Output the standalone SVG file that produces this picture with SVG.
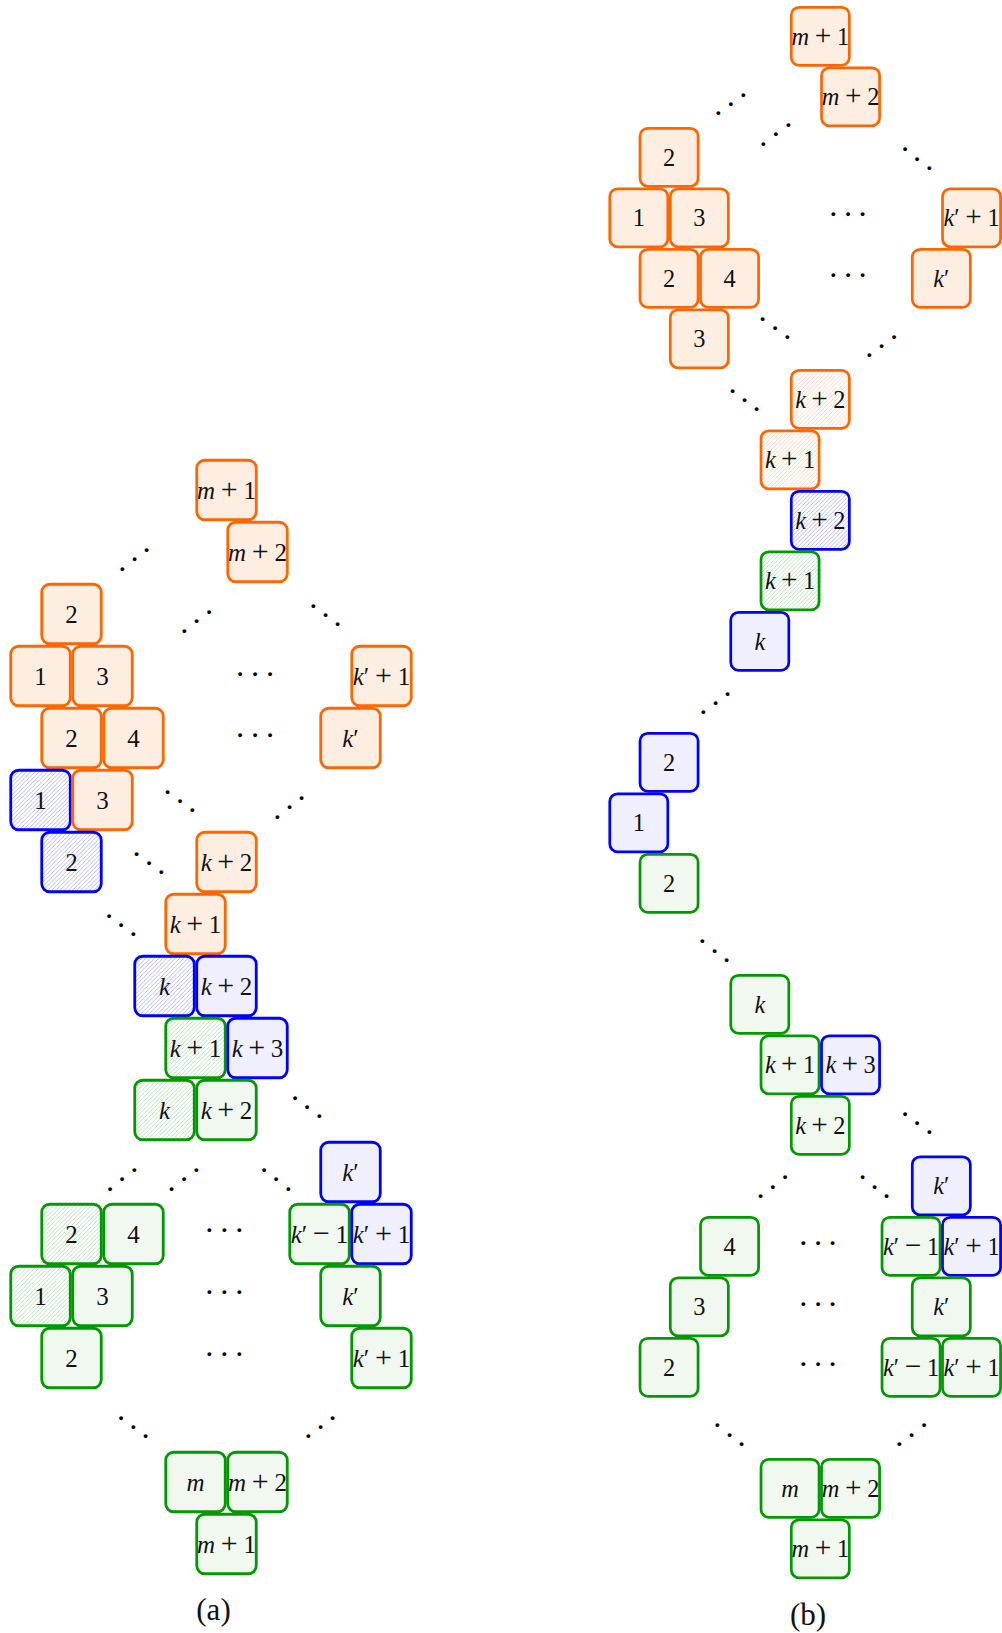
<svg xmlns="http://www.w3.org/2000/svg" width="1002" height="1633" viewBox="0 0 1002 1633">
<style>
rect.c { stroke-width:2.8; }
.O { fill:#feeee1; stroke:#ff6600; }
.B { fill:#efeffd; stroke:#0000ff; }
.G { fill:#f0f8ef; stroke:#009900; }
.OH { fill:url(#hO); stroke:#ff6600; }
.BH { fill:url(#hB); stroke:#0000ff; }
.GH { fill:url(#hG); stroke:#009900; }
text.t { font-family:"Liberation Serif", serif; font-size:25px; text-anchor:middle; fill:#111; }
tspan.i { font-style:italic; }
tspan.op { font-size:30px; }
text.d { font-family:"Liberation Serif", serif; font-size:32px; text-anchor:middle; fill:#000; }
text.cap { font-family:"Liberation Serif", serif; font-size:31px; text-anchor:middle; fill:#111; }
</style>
<defs>
<pattern id="hB" patternUnits="userSpaceOnUse" width="4.2" height="4.2">
<rect width="4.2" height="4.2" fill="#fff"/>
<path d="M-1,1 L1,-1 M0,4.2 L4.2,0 M3.2,5.2 L5.2,3.2" stroke="#9c9cff" stroke-width="0.7"/>
</pattern>
<pattern id="hG" patternUnits="userSpaceOnUse" width="4.2" height="4.2">
<rect width="4.2" height="4.2" fill="#fff"/>
<path d="M-1,1 L1,-1 M0,4.2 L4.2,0 M3.2,5.2 L5.2,3.2" stroke="#9fd89f" stroke-width="0.7"/>
</pattern>
<pattern id="hO" patternUnits="userSpaceOnUse" width="4.2" height="4.2">
<rect width="4.2" height="4.2" fill="#fff"/>
<path d="M-1,1 L1,-1 M0,4.2 L4.2,0 M3.2,5.2 L5.2,3.2" stroke="#ffc4a0" stroke-width="0.7"/>
</pattern>
</defs>

<g id="diagram-a" transform="translate(40.5,490)">
<g id="a1" transform="translate(186,0)"><rect class="c O" x="-29.75" y="-29.75" width="59.5" height="59.5" rx="8"/><text class="t" y="8.5" textLength="59" lengthAdjust="spacing"><tspan class="i">m</tspan> <tspan class="op">+</tspan> 1</text></g>
<g id="a2" transform="translate(217,62)"><rect class="c O" x="-29.75" y="-29.75" width="59.5" height="59.5" rx="8"/><text class="t" y="8.5" textLength="59" lengthAdjust="spacing"><tspan class="i">m</tspan> <tspan class="op">+</tspan> 2</text></g>
<g id="a3" transform="translate(31,124)"><rect class="c O" x="-29.75" y="-29.75" width="59.5" height="59.5" rx="8"/><text class="t" y="8.5">2</text></g>
<g id="a4" transform="translate(0,186)"><rect class="c O" x="-29.75" y="-29.75" width="59.5" height="59.5" rx="8"/><text class="t" y="8.5">1</text></g>
<g id="a5" transform="translate(62,186)"><rect class="c O" x="-29.75" y="-29.75" width="59.5" height="59.5" rx="8"/><text class="t" y="8.5">3</text></g>
<g id="a6" transform="translate(341,186)"><rect class="c O" x="-29.75" y="-29.75" width="59.5" height="59.5" rx="8"/><text class="t" y="8.5" textLength="57.5" lengthAdjust="spacing"><tspan class="i">k</tspan>′ <tspan class="op">+</tspan> 1</text></g>
<g id="a7" transform="translate(31,248)"><rect class="c O" x="-29.75" y="-29.75" width="59.5" height="59.5" rx="8"/><text class="t" y="8.5">2</text></g>
<g id="a8" transform="translate(93,248)"><rect class="c O" x="-29.75" y="-29.75" width="59.5" height="59.5" rx="8"/><text class="t" y="8.5">4</text></g>
<g id="a9" transform="translate(310,248)"><rect class="c O" x="-29.75" y="-29.75" width="59.5" height="59.5" rx="8"/><text class="t" y="8.5"><tspan class="i">k</tspan>′</text></g>
<g id="a10" transform="translate(0,310)"><rect class="c BH" x="-29.75" y="-29.75" width="59.5" height="59.5" rx="8"/><text class="t" y="8.5">1</text></g>
<g id="a11" transform="translate(62,310)"><rect class="c O" x="-29.75" y="-29.75" width="59.5" height="59.5" rx="8"/><text class="t" y="8.5">3</text></g>
<g id="a12" transform="translate(31,372)"><rect class="c BH" x="-29.75" y="-29.75" width="59.5" height="59.5" rx="8"/><text class="t" y="8.5">2</text></g>
<g id="a13" transform="translate(186,372)"><rect class="c O" x="-29.75" y="-29.75" width="59.5" height="59.5" rx="8"/><text class="t" y="8.5" textLength="51.5" lengthAdjust="spacing"><tspan class="i">k</tspan> <tspan class="op">+</tspan> 2</text></g>
<g id="a14" transform="translate(155,434)"><rect class="c O" x="-29.75" y="-29.75" width="59.5" height="59.5" rx="8"/><text class="t" y="8.5" textLength="51.5" lengthAdjust="spacing"><tspan class="i">k</tspan> <tspan class="op">+</tspan> 1</text></g>
<g id="a15" transform="translate(124,496)"><rect class="c BH" x="-29.75" y="-29.75" width="59.5" height="59.5" rx="8"/><text class="t" y="8.5"><tspan class="i">k</tspan></text></g>
<g id="a16" transform="translate(186,496)"><rect class="c B" x="-29.75" y="-29.75" width="59.5" height="59.5" rx="8"/><text class="t" y="8.5" textLength="51.5" lengthAdjust="spacing"><tspan class="i">k</tspan> <tspan class="op">+</tspan> 2</text></g>
<g id="a17" transform="translate(155,558)"><rect class="c GH" x="-29.75" y="-29.75" width="59.5" height="59.5" rx="8"/><text class="t" y="8.5" textLength="51.5" lengthAdjust="spacing"><tspan class="i">k</tspan> <tspan class="op">+</tspan> 1</text></g>
<g id="a18" transform="translate(217,558)"><rect class="c B" x="-29.75" y="-29.75" width="59.5" height="59.5" rx="8"/><text class="t" y="8.5" textLength="51.5" lengthAdjust="spacing"><tspan class="i">k</tspan> <tspan class="op">+</tspan> 3</text></g>
<g id="a19" transform="translate(124,620)"><rect class="c GH" x="-29.75" y="-29.75" width="59.5" height="59.5" rx="8"/><text class="t" y="8.5"><tspan class="i">k</tspan></text></g>
<g id="a20" transform="translate(186,620)"><rect class="c G" x="-29.75" y="-29.75" width="59.5" height="59.5" rx="8"/><text class="t" y="8.5" textLength="51.5" lengthAdjust="spacing"><tspan class="i">k</tspan> <tspan class="op">+</tspan> 2</text></g>
<g id="a21" transform="translate(310,682)"><rect class="c B" x="-29.75" y="-29.75" width="59.5" height="59.5" rx="8"/><text class="t" y="8.5"><tspan class="i">k</tspan>′</text></g>
<g id="a22" transform="translate(31,744)"><rect class="c GH" x="-29.75" y="-29.75" width="59.5" height="59.5" rx="8"/><text class="t" y="8.5">2</text></g>
<g id="a23" transform="translate(93,744)"><rect class="c G" x="-29.75" y="-29.75" width="59.5" height="59.5" rx="8"/><text class="t" y="8.5">4</text></g>
<g id="a24" transform="translate(279,744)"><rect class="c G" x="-29.75" y="-29.75" width="59.5" height="59.5" rx="8"/><text class="t" y="8.5" textLength="57.5" lengthAdjust="spacing"><tspan class="i">k</tspan>′ <tspan class="op">−</tspan> 1</text></g>
<g id="a25" transform="translate(341,744)"><rect class="c B" x="-29.75" y="-29.75" width="59.5" height="59.5" rx="8"/><text class="t" y="8.5" textLength="57.5" lengthAdjust="spacing"><tspan class="i">k</tspan>′ <tspan class="op">+</tspan> 1</text></g>
<g id="a26" transform="translate(0,806)"><rect class="c GH" x="-29.75" y="-29.75" width="59.5" height="59.5" rx="8"/><text class="t" y="8.5">1</text></g>
<g id="a27" transform="translate(62,806)"><rect class="c G" x="-29.75" y="-29.75" width="59.5" height="59.5" rx="8"/><text class="t" y="8.5">3</text></g>
<g id="a28" transform="translate(310,806)"><rect class="c G" x="-29.75" y="-29.75" width="59.5" height="59.5" rx="8"/><text class="t" y="8.5"><tspan class="i">k</tspan>′</text></g>
<g id="a29" transform="translate(31,868)"><rect class="c G" x="-29.75" y="-29.75" width="59.5" height="59.5" rx="8"/><text class="t" y="8.5">2</text></g>
<g id="a30" transform="translate(341,868)"><rect class="c G" x="-29.75" y="-29.75" width="59.5" height="59.5" rx="8"/><text class="t" y="8.5" textLength="57.5" lengthAdjust="spacing"><tspan class="i">k</tspan>′ <tspan class="op">+</tspan> 1</text></g>
<g id="a31" transform="translate(155,992)"><rect class="c G" x="-29.75" y="-29.75" width="59.5" height="59.5" rx="8"/><text class="t" y="8.5"><tspan class="i">m</tspan></text></g>
<g id="a32" transform="translate(217,992)"><rect class="c G" x="-29.75" y="-29.75" width="59.5" height="59.5" rx="8"/><text class="t" y="8.5" textLength="59" lengthAdjust="spacing"><tspan class="i">m</tspan> <tspan class="op">+</tspan> 2</text></g>
<g id="a33" transform="translate(186,1054)"><rect class="c G" x="-29.75" y="-29.75" width="59.5" height="59.5" rx="8"/><text class="t" y="8.5" textLength="59" lengthAdjust="spacing"><tspan class="i">m</tspan> <tspan class="op">+</tspan> 1</text></g>
</g>

<g id="diagram-b" transform="translate(638.8,36.3) scale(0.9758)">
<g id="b1" transform="translate(186,0)"><rect class="c O" x="-29.75" y="-29.75" width="59.5" height="59.5" rx="8"/><text class="t" y="8.5" textLength="59" lengthAdjust="spacing"><tspan class="i">m</tspan> <tspan class="op">+</tspan> 1</text></g>
<g id="b2" transform="translate(217,62)"><rect class="c O" x="-29.75" y="-29.75" width="59.5" height="59.5" rx="8"/><text class="t" y="8.5" textLength="59" lengthAdjust="spacing"><tspan class="i">m</tspan> <tspan class="op">+</tspan> 2</text></g>
<g id="b3" transform="translate(31,124)"><rect class="c O" x="-29.75" y="-29.75" width="59.5" height="59.5" rx="8"/><text class="t" y="8.5">2</text></g>
<g id="b4" transform="translate(0,186)"><rect class="c O" x="-29.75" y="-29.75" width="59.5" height="59.5" rx="8"/><text class="t" y="8.5">1</text></g>
<g id="b5" transform="translate(62,186)"><rect class="c O" x="-29.75" y="-29.75" width="59.5" height="59.5" rx="8"/><text class="t" y="8.5">3</text></g>
<g id="b6" transform="translate(341,186)"><rect class="c O" x="-29.75" y="-29.75" width="59.5" height="59.5" rx="8"/><text class="t" y="8.5" textLength="57.5" lengthAdjust="spacing"><tspan class="i">k</tspan>′ <tspan class="op">+</tspan> 1</text></g>
<g id="b7" transform="translate(31,248)"><rect class="c O" x="-29.75" y="-29.75" width="59.5" height="59.5" rx="8"/><text class="t" y="8.5">2</text></g>
<g id="b8" transform="translate(93,248)"><rect class="c O" x="-29.75" y="-29.75" width="59.5" height="59.5" rx="8"/><text class="t" y="8.5">4</text></g>
<g id="b9" transform="translate(310,248)"><rect class="c O" x="-29.75" y="-29.75" width="59.5" height="59.5" rx="8"/><text class="t" y="8.5"><tspan class="i">k</tspan>′</text></g>
<g id="b10" transform="translate(62,310)"><rect class="c O" x="-29.75" y="-29.75" width="59.5" height="59.5" rx="8"/><text class="t" y="8.5">3</text></g>
<g id="b11" transform="translate(186,372)"><rect class="c OH" x="-29.75" y="-29.75" width="59.5" height="59.5" rx="8"/><text class="t" y="8.5" textLength="51.5" lengthAdjust="spacing"><tspan class="i">k</tspan> <tspan class="op">+</tspan> 2</text></g>
<g id="b12" transform="translate(155,434)"><rect class="c OH" x="-29.75" y="-29.75" width="59.5" height="59.5" rx="8"/><text class="t" y="8.5" textLength="51.5" lengthAdjust="spacing"><tspan class="i">k</tspan> <tspan class="op">+</tspan> 1</text></g>
<g id="b13" transform="translate(186,496)"><rect class="c BH" x="-29.75" y="-29.75" width="59.5" height="59.5" rx="8"/><text class="t" y="8.5" textLength="51.5" lengthAdjust="spacing"><tspan class="i">k</tspan> <tspan class="op">+</tspan> 2</text></g>
<g id="b14" transform="translate(155,558)"><rect class="c GH" x="-29.75" y="-29.75" width="59.5" height="59.5" rx="8"/><text class="t" y="8.5" textLength="51.5" lengthAdjust="spacing"><tspan class="i">k</tspan> <tspan class="op">+</tspan> 1</text></g>
<g id="b15" transform="translate(124,620)"><rect class="c B" x="-29.75" y="-29.75" width="59.5" height="59.5" rx="8"/><text class="t" y="8.5"><tspan class="i">k</tspan></text></g>
<g id="b16" transform="translate(31,744)"><rect class="c B" x="-29.75" y="-29.75" width="59.5" height="59.5" rx="8"/><text class="t" y="8.5">2</text></g>
<g id="b17" transform="translate(0,806)"><rect class="c B" x="-29.75" y="-29.75" width="59.5" height="59.5" rx="8"/><text class="t" y="8.5">1</text></g>
<g id="b18" transform="translate(31,868)"><rect class="c G" x="-29.75" y="-29.75" width="59.5" height="59.5" rx="8"/><text class="t" y="8.5">2</text></g>
<g id="b19" transform="translate(124,992)"><rect class="c G" x="-29.75" y="-29.75" width="59.5" height="59.5" rx="8"/><text class="t" y="8.5"><tspan class="i">k</tspan></text></g>
<g id="b20" transform="translate(155,1054)"><rect class="c G" x="-29.75" y="-29.75" width="59.5" height="59.5" rx="8"/><text class="t" y="8.5" textLength="51.5" lengthAdjust="spacing"><tspan class="i">k</tspan> <tspan class="op">+</tspan> 1</text></g>
<g id="b21" transform="translate(217,1054)"><rect class="c B" x="-29.75" y="-29.75" width="59.5" height="59.5" rx="8"/><text class="t" y="8.5" textLength="51.5" lengthAdjust="spacing"><tspan class="i">k</tspan> <tspan class="op">+</tspan> 3</text></g>
<g id="b22" transform="translate(186,1116)"><rect class="c G" x="-29.75" y="-29.75" width="59.5" height="59.5" rx="8"/><text class="t" y="8.5" textLength="51.5" lengthAdjust="spacing"><tspan class="i">k</tspan> <tspan class="op">+</tspan> 2</text></g>
<g id="b23" transform="translate(310,1178)"><rect class="c B" x="-29.75" y="-29.75" width="59.5" height="59.5" rx="8"/><text class="t" y="8.5"><tspan class="i">k</tspan>′</text></g>
<g id="b24" transform="translate(93,1240)"><rect class="c G" x="-29.75" y="-29.75" width="59.5" height="59.5" rx="8"/><text class="t" y="8.5">4</text></g>
<g id="b25" transform="translate(279,1240)"><rect class="c G" x="-29.75" y="-29.75" width="59.5" height="59.5" rx="8"/><text class="t" y="8.5" textLength="57.5" lengthAdjust="spacing"><tspan class="i">k</tspan>′ <tspan class="op">−</tspan> 1</text></g>
<g id="b26" transform="translate(341,1240)"><rect class="c B" x="-29.75" y="-29.75" width="59.5" height="59.5" rx="8"/><text class="t" y="8.5" textLength="57.5" lengthAdjust="spacing"><tspan class="i">k</tspan>′ <tspan class="op">+</tspan> 1</text></g>
<g id="b27" transform="translate(62,1302)"><rect class="c G" x="-29.75" y="-29.75" width="59.5" height="59.5" rx="8"/><text class="t" y="8.5">3</text></g>
<g id="b28" transform="translate(310,1302)"><rect class="c G" x="-29.75" y="-29.75" width="59.5" height="59.5" rx="8"/><text class="t" y="8.5"><tspan class="i">k</tspan>′</text></g>
<g id="b29" transform="translate(31,1364)"><rect class="c G" x="-29.75" y="-29.75" width="59.5" height="59.5" rx="8"/><text class="t" y="8.5">2</text></g>
<g id="b30" transform="translate(279,1364)"><rect class="c G" x="-29.75" y="-29.75" width="59.5" height="59.5" rx="8"/><text class="t" y="8.5" textLength="57.5" lengthAdjust="spacing"><tspan class="i">k</tspan>′ <tspan class="op">−</tspan> 1</text></g>
<g id="b31" transform="translate(341,1364)"><rect class="c G" x="-29.75" y="-29.75" width="59.5" height="59.5" rx="8"/><text class="t" y="8.5" textLength="57.5" lengthAdjust="spacing"><tspan class="i">k</tspan>′ <tspan class="op">+</tspan> 1</text></g>
<g id="b32" transform="translate(155,1488)"><rect class="c G" x="-29.75" y="-29.75" width="59.5" height="59.5" rx="8"/><text class="t" y="8.5"><tspan class="i">m</tspan></text></g>
<g id="b33" transform="translate(217,1488)"><rect class="c G" x="-29.75" y="-29.75" width="59.5" height="59.5" rx="8"/><text class="t" y="8.5" textLength="59" lengthAdjust="spacing"><tspan class="i">m</tspan> <tspan class="op">+</tspan> 2</text></g>
<g id="b34" transform="translate(186,1550)"><rect class="c G" x="-29.75" y="-29.75" width="59.5" height="59.5" rx="8"/><text class="t" y="8.5" textLength="59" lengthAdjust="spacing"><tspan class="i">m</tspan> <tspan class="op">+</tspan> 1</text></g>
</g>

<g id="dots-a">
<text class="d" x="122.3 134.5 146.7" y="580.2 570.2 560.8">···</text>
<text class="d" x="184.3 196.7 209" y="641.8 631.8 622.5">···</text>
<text class="d" x="313.3 325.5 337.7" y="616.8 625.8 634.5">···</text>
<text class="d" x="240 255 270" y="684.5">···</text>
<text class="d" x="240 255 270" y="746.2">···</text>
<text class="d" x="167.7 180 192.3" y="802.5 811.8 820.8">···</text>
<text class="d" x="277.3 289.5 301.7" y="827.8 817.8 808.5">···</text>
<text class="d" x="136.7 149 161.3" y="864.5 873.5 882.5">···</text>
<text class="d" x="109 121.2 133.3" y="926.8 935.8 944.8">···</text>
<text class="d" x="295 307.2 319.3" y="1108.5 1117.8 1127.2">···</text>
<text class="d" x="110 122.2 134.3" y="1199.5 1190.2 1180.8">···</text>
<text class="d" x="171.7 184 196.3" y="1199.5 1190.2 1180.8">···</text>
<text class="d" x="264 276.2 288.3" y="1180.8 1190.2 1199.5">···</text>
<text class="d" x="209.3 224.3 239.3" y="1241.2">···</text>
<text class="d" x="209.3 224.3 239.3" y="1302.8">···</text>
<text class="d" x="209.3 224.3 239.3" y="1365.2">···</text>
<text class="d" x="121 133.3 145.7" y="1428.5 1437.8 1446.8">···</text>
<text class="d" x="308.3 320.5 332.7" y="1446.8 1437.8 1428.5">···</text>
</g>

<g id="dots-b">
<text class="d" x="718.3 730.8 743.3" y="123.5 114.5 105.8">···</text>
<text class="d" x="763.3 775.8 788.3" y="154.5 144.5 135.8">···</text>
<text class="d" x="905 917.2 929.3" y="159.5 169.5 178.5">···</text>
<text class="d" x="833.3 848 862.7" y="225.2">···</text>
<text class="d" x="833.3 848 862.7" y="286.2">···</text>
<text class="d" x="762.7 775 787.3" y="329.5 338.5 347.8">···</text>
<text class="d" x="869.3 881.7 894" y="365.8 356.8 347.8">···</text>
<text class="d" x="732.7 744.7 756.7" y="401.8 410.8 420.2">···</text>
<text class="d" x="703.3 715.5 727.7" y="722.5 713.5 704.5">···</text>
<text class="d" x="702.3 714.5 726.7" y="951.8 961.8 970.8">···</text>
<text class="d" x="905 917.2 929.3" y="1124.5 1133.5 1142.5">···</text>
<text class="d" x="760.7 772.8 785" y="1206.8 1197.5 1187.8">···</text>
<text class="d" x="862.7 874.7 886.7" y="1187.8 1197.5 1206.8">···</text>
<text class="d" x="803.3 818 832.7" y="1253.5">···</text>
<text class="d" x="803.3 818 832.7" y="1314.5">···</text>
<text class="d" x="803.3 818 832.7" y="1374.5">···</text>
<text class="d" x="717.3 729.5 741.7" y="1435.8 1445.8 1455.2">···</text>
<text class="d" x="899.3 911.7 924" y="1455.2 1445.8 1435.8">···</text>
</g>

<text class="cap" x="213.5" y="1619.5">(a)</text>
<text class="cap" x="808" y="1624.5">(b)</text>
</svg>
